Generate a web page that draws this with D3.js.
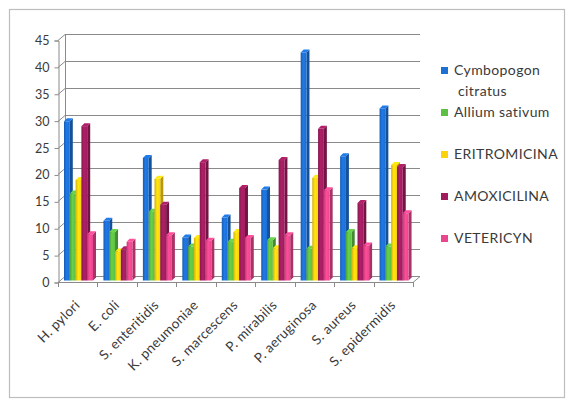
<!DOCTYPE html>
<html>
<head>
<meta charset="utf-8">
<script src="https://cdn.jsdelivr.net/npm/d3@7"></script>
<style>
  html, body { margin: 0; padding: 0; background: #fff; }
  svg { display: block; }
  text { font-family: Lato, "Noto Sans", sans-serif; fill: #3a3a3a; }
</style>
</head>
<body>
<svg id="chart" width="568" height="401"></svg>
<script>
// Bacteria tested
const categories = ["H. pylori", "E. coli", "S. enteritidis", "K. pneumoniae", "S. marcescens",
                    "P. mirabilis", "P. aeruginosa", "S. aureus", "S. epidermidis"];

// Inhibition values per treatment (one array per series)
const cymbopogon   = [29.6, 11.1, 22.8,  8.0, 11.7, 16.9, 42.4, 23.1, 32.0];
const allium       = [16.2,  9.0, 12.8,  6.3,  7.2,  7.5,  5.9,  9.0,  6.3];
const eritromicina = [18.7,  5.4, 18.9,  7.9,  9.0,  6.0, 19.1,  6.0, 21.5];
const amoxicilina  = [28.7,  5.8, 14.1, 22.0, 17.2, 22.4, 28.2, 14.4, 21.1];
const vetericyn    = [ 8.6,  7.2,  8.4,  7.4,  7.9,  8.4, 16.8,  6.5, 12.5];

const seriesNames = ["Cymbopogon citratus", "Allium sativum", "ERITROMICINA", "AMOXICILINA", "VETERICYN"];
const seriesValues = [cymbopogon, allium, eritromicina, amoxicilina, vetericyn];
const yTicks = [0, 5, 10, 15, 20, 25, 30, 35, 40, 45];

const colors = ["#1c6fd3", "#5dbf43", "#fcd20c", "#a01c5e", "#e9468d"];

const svg = d3.select("#chart");

// outer frame
svg.append("rect")
  .attr("x", 9.5).attr("y", 9.5).attr("width", 555).attr("height", 388)
  .attr("fill", "#fff").attr("stroke", "#bdbdbd").attr("stroke-width", 1.2);

// front plane geometry and wall depth
const plotLeft = 58, plotRight = 413, plotBottom = 282, plotTop = 40;
const wallDx = 7, wallDy = -6;

const x = d3.scaleBand().domain(categories).range([plotLeft, plotRight]);
const y = d3.scaleLinear().domain([0, 45]).range([plotBottom, plotTop]);

const grid = svg.append("g").attr("stroke", "#8a8a8a").attr("stroke-width", 1).attr("fill", "none");

// back wall gridlines + side wall diagonals
yTicks.forEach(t => {
  const yy = Math.round(y(t)) + 0.5;
  grid.append("line")
    .attr("x1", plotLeft + wallDx).attr("x2", plotRight + wallDx)
    .attr("y1", yy + wallDy).attr("y2", yy + wallDy);
  grid.append("line")
    .attr("x1", plotLeft).attr("y1", yy).attr("x2", plotLeft + wallDx).attr("y2", yy + wallDy);
});
// side wall back edge
grid.append("line")
  .attr("x1", plotLeft + wallDx + 0.5).attr("x2", plotLeft + wallDx + 0.5)
  .attr("y1", y(45) + wallDy).attr("y2", y(0) + wallDy);
// floor
grid.append("line").attr("x1", plotLeft).attr("x2", plotRight)
  .attr("y1", plotBottom + 0.5).attr("y2", plotBottom + 0.5);
grid.append("line").attr("x1", plotRight).attr("y1", plotBottom + 0.5)
  .attr("x2", plotRight + wallDx).attr("y2", plotBottom + 0.5 + wallDy);

// y axis (front left edge)
const yAxis = d3.axisLeft(y).tickValues(yTicks).tickSize(4).tickPadding(5);
const yG = svg.append("g").attr("transform", `translate(${plotLeft + 0.5},0.5)`).call(yAxis);
yG.select(".domain").attr("stroke", "#8a8a8a");
yG.selectAll(".tick line").attr("stroke", "#8a8a8a");
yG.selectAll(".tick text").style("font-size", "12.5px").attr("fill", "#3a3a3a");

// category tick marks on the floor edge
const tickPos = categories.map(c => x(c)).concat([plotRight]);
svg.append("g").selectAll("line").data(tickPos).join("line")
  .attr("x1", d => Math.round(d) + 0.5).attr("x2", d => Math.round(d) + 0.5)
  .attr("y1", plotBottom).attr("y2", plotBottom + 5)
  .attr("stroke", "#8a8a8a");

// shading gradients for the bar faces
const defs = svg.append("defs");
colors.forEach((c, i) => {
  const g = defs.append("linearGradient").attr("id", "grad" + i)
    .attr("x1", "0").attr("x2", "1").attr("y1", "0").attr("y2", "0");
  const base = d3.color(c);
  g.append("stop").attr("offset", "0").attr("stop-color", base.darker(0.5));
  g.append("stop").attr("offset", "0.45").attr("stop-color", base.brighter(0.25));
  g.append("stop").attr("offset", "1").attr("stop-color", base);
});

// series position inside each category
const sub = d3.scaleBand().domain(d3.range(seriesNames.length)).range([4, 33]);
const barDx = 3, barDy = -3;    // bar depth
const offDx = 2, offDy = -1.5;  // bar front face inset from front plane

const bars = svg.append("g");
categories.forEach((cat, ci) => {
  seriesValues.forEach((vals, si) => {
    const v = vals[ci];
    const x0 = x(cat) + sub(si) + offDx;
    const w = sub.bandwidth();
    const y0 = y(0) + offDy;
    const y1 = y(v) + offDy;
    const base = d3.color(colors[si]);
    const g = bars.append("g");
    // right side face
    g.append("path")
      .attr("d", `M${x0 + w},${y1} L${x0 + w + barDx},${y1 + barDy} L${x0 + w + barDx},${y0 + barDy} L${x0 + w},${y0} Z`)
      .attr("fill", base.darker(0.9));
    // top face
    g.append("path")
      .attr("d", `M${x0},${y1} L${x0 + barDx},${y1 + barDy} L${x0 + w + barDx},${y1 + barDy} L${x0 + w},${y1} Z`)
      .attr("fill", base.brighter(0.3));
    // front face
    g.append("rect")
      .attr("x", x0).attr("y", y1).attr("width", w).attr("height", y0 - y1)
      .attr("fill", `url(#grad${si})`);
  });
});

// rotated category labels
svg.append("g").selectAll("text").data(categories).join("text")
  .attr("transform", d => `translate(${x(d) + x.bandwidth() / 2 + 3},${plotBottom + 24}) rotate(-45)`)
  .attr("text-anchor", "end")
  .style("font-size", "13.5px")
  .style("letter-spacing", "0.3px")
  .text(d => d);

// legend
const legend = svg.append("g");
seriesNames.forEach((name, i) => {
  const by = 75 + 42 * i;
  legend.append("rect")
    .attr("x", 441).attr("y", by - 8).attr("width", 7).attr("height", 7)
    .attr("fill", colors[i]);
  const lines = name === "Cymbopogon citratus" ? name.split(" ") : [name];
  const t = legend.append("text").attr("x", 454).attr("y", by)
    .style("font-size", "14px").style("letter-spacing", "0.4px");
  lines.forEach((ln, li) => {
    t.append("tspan").attr("x", li === 0 ? 454 : 458).attr("dy", li === 0 ? 0 : 21).text(ln);
  });
});
</script>
</body>
</html>
